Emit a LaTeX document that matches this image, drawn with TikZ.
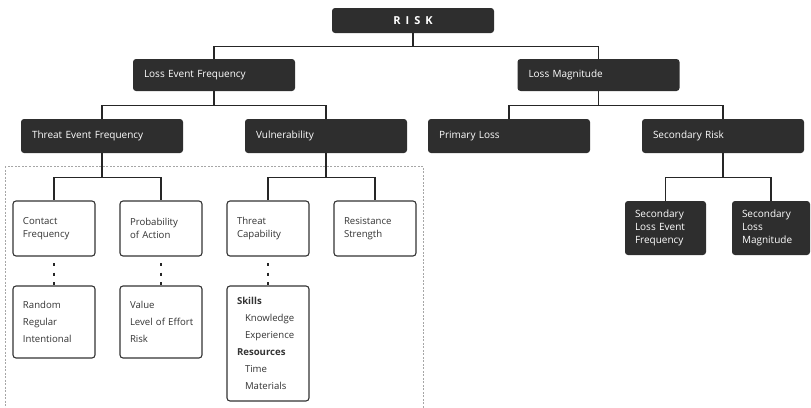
\documentclass[tikz,border=0pt]{standalone}
\usepackage{fontspec}
\setmainfont{Open Sans}
\definecolor{boxdark}{HTML}{2E2E2E}
\definecolor{ink}{HTML}{333333}

\begin{document}
\begin{tikzpicture}[x=1pt,y=-1pt,
    dark/.style={fill=boxdark,text=white,rounded corners=3pt,minimum height=34pt,
      text width=140pt,inner xsep=11pt,inner ysep=0pt,align=left,font=\fontsize{10}{13}\selectfont},
    small/.style={dark,text width=61pt,inner xsep=10pt,minimum height=54pt},
    light/.style={draw=ink,line width=1.1pt,fill=white,text=ink,rounded corners=3pt,
      text width=62pt,inner xsep=10pt,inner ysep=0pt,align=left,font=\fontsize{9.6}{13}\selectfont},
    list/.style={light,font=\fontsize{9.6}{17}\selectfont},
    link/.style={line width=1.3pt,draw=black!85},
    hint/.style={line width=2pt,draw=black!85,dash pattern=on 3pt off 6.5pt,dash phase=3pt}]
  \useasboundingbox (0,0) rectangle (811,407);
  \draw[black!35,line width=0.8pt,dash pattern=on 2pt off 1.5pt] (5,166) rectangle (423,412);

  \node[dark,minimum height=25pt,align=center,font=\bfseries\fontsize{11}{13}\selectfont] (risk) at (413,20.5) {R\hspace{5pt}I\hspace{5pt}S\hspace{5pt}K};
  \node[dark,minimum height=32pt] (lef) at (214,75) {Loss Event Frequency};
  \node[dark,minimum height=32pt] (lm) at (598.5,75) {Loss Magnitude};
  \node[dark] (tef) at (102,136) {Threat Event Frequency};
  \node[dark] (vul) at (326,136) {Vulnerability};
  \node[dark] (pl) at (509,136) {Primary Loss};
  \node[dark] (sr) at (723,136) {Secondary Risk};

  \node[light,minimum height=55pt] (cf) at (54,228.5) {Contact\\Frequency};
  \node[light,minimum height=55pt] (poa) at (161,228.5) {Probability\\of Action};
  \node[light,minimum height=55pt] (tc) at (268,228.5) {Threat\\Capability};
  \node[light,minimum height=55pt] (rs) at (375,228.5) {Resistance\\Strength};

  \node[list,minimum height=72pt] (ran) at (54,322) {Random\\Regular\\Intentional};
  \node[list,minimum height=72pt] (val) at (161,322) {Value\\\mbox{Level of Effort}\\Risk};
  \node[list,minimum height=115pt] (ski) at (268,343.5) {\textbf{Skills}\\\hspace*{8pt}Knowledge\\\hspace*{8pt}Experience\\\textbf{Resources}\\\hspace*{8pt}Time\\\hspace*{8pt}Materials};

  \node[small] (slef) at (665.5,228) {Secondary\\Loss Event\\Frequency};
  \node[small,text width=58pt] (slm) at (771,228) {Secondary\\Loss\\Magnitude};

  \draw[link] (risk.south) -- ++(0,13) -| (lef.north);
  \draw[link] (risk.south) -- ++(0,13) -| (lm.north);
  \draw[link] (lef.south) -- ++(0,14) -| (tef.north);
  \draw[link] (lef.south) -- ++(0,14) -| (vul.north);
  \draw[link] (lm.south) -- ++(0,14) -| (pl.north);
  \draw[link] (lm.south) -- ++(0,14) -| (sr.north);
  \draw[link] (tef.south) -- ++(0,24) -| (cf.north);
  \draw[link] (tef.south) -- ++(0,24) -| (poa.north);
  \draw[link] (vul.south) -- ++(0,24) -| (tc.north);
  \draw[link] (vul.south) -- ++(0,24) -| (rs.north);
  \draw[link] (sr.south) -- ++(0,24) -| (slef.north);
  \draw[link] (sr.south) -- ++(0,24) -| (slm.north);

  \draw[hint] (cf.south) -- (ran.north);
  \draw[hint] (poa.south) -- (val.north);
  \draw[hint] (tc.south) -- (ski.north);
\end{tikzpicture}
\end{document}
